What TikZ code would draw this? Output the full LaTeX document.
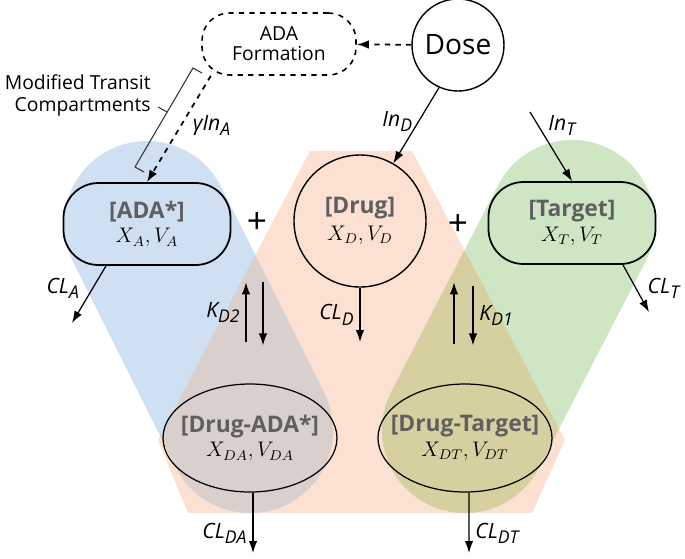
\documentclass[tikz,border=0pt]{standalone}
\usepackage{fontspec}
\setmainfont{Open Sans}
\usetikzlibrary{arrows.meta, positioning, calc, shapes.geometric}
\definecolor{pkblue}{HTML}{CFE0F2}
\definecolor{pkpeach}{HTML}{FCE0D2}
\definecolor{pkgreen}{HTML}{CFE6C5}
\definecolor{pkmauve}{HTML}{D9CFCC}
\definecolor{pkolive}{HTML}{D6D0A0}
\definecolor{pkgray}{HTML}{5F5F5F}
\newcommand{\cname}[1]{{\fontsize{13}{15}\selectfont\bfseries\color{pkgray}#1}}
\newcommand{\cvar}[1]{{\fontsize{12}{14}\selectfont$#1$}}
\newcommand{\lsub}[1]{\raisebox{-.45ex}{\fontsize{10}{12}\selectfont#1}}
\newcommand{\peachhex}{(6.2,-3.02) -- (8.24,-3.02) -- (11.3,-8.8) -- (10.64,-10.26) -- (3.76,-10.26) -- (3.16,-8.8) -- cycle}

\begin{document}
\begin{tikzpicture}[>={Latex[length=2.4mm,width=1.7mm]}, line width=.7pt,
          rr/.style={draw, line width=1pt, rounded corners=.7cm, minimum width=3.34cm, minimum height=1.64cm, align=center, inner sep=0pt},
          cc/.style={draw, circle, line width=.8pt, align=center, inner sep=0pt},
          el/.style={draw, ellipse, line width=.7pt, minimum width=3.48cm, minimum height=2.16cm, align=center, inner xsep=-.31cm, inner ysep=0pt},
          lb/.style={font=\fontsize{12}{14}\selectfont\itshape},
          pl/.style={font=\fontsize{20}{22}\selectfont},
          dsh/.style={->, dashed, line width=1pt},
          band/.style={line width=3.32cm, line cap=round}]
          \useasboundingbox (0,0) rectangle (13.7,-11.16);
          % shaded groups
          \fill[pkpeach] \peachhex;
          \draw[band, pkblue] (2.94,-4.48) -- (5.0,-8.6);
          \draw[band, pkgreen] (11.44,-4.46) -- (9.3,-8.6);
          \begin{scope}
            \clip \peachhex;
            \draw[band, pkmauve] (2.94,-4.48) -- (5.0,-8.6);
            \draw[band, pkolive] (11.44,-4.46) -- (9.3,-8.6);
          \end{scope}
          % compartments
          \node[cc, minimum size=1.84cm, font=\fontsize{16}{18}\selectfont] (dose) at (9.16,-0.9) {Dose};
          \node[draw, dashed, line width=.9pt, rounded corners=.55cm, minimum width=3.08cm, minimum height=1.24cm,
                align=center, font=\fontsize{11}{11.5}\selectfont] (adaf) at (5.58,-0.88) {ADA\\Formation};
          \node[rr] (ada) at (2.94,-4.48) {\cname{[ADA*]}\\[2pt]\cvar{X_A, V_A}};
          \node[cc, minimum size=2.64cm] (drug) at (7.2,-4.42) {\cname{[Drug]}\\[3pt]\cvar{X_D, V_D}};
          \node[rr] (target) at (11.44,-4.46) {\cname{[Target]}\\[2pt]\cvar{X_T, V_T}};
          \node[el] (drugada) at (5.0,-8.76) {\cname{[Drug-ADA*]}\\[2pt]\cvar{X_{DA}, V_{DA}}};
          \node[el] (drugtgt) at (9.3,-8.76) {\cname{[Drug-Target]}\\[2pt]\cvar{X_{DT}, V_{DT}}};
          \node[pl] (plusa) at (5.14,-4.46) {+};
          \node[pl] (plusb) at (9.16,-4.5) {+};
          % inputs
          \coordinate (tin) at (10.6,-2.24);
          \draw[dsh] (dose) -- (adaf);
          \draw[->] (dose.246) -- node[pos=.45, left, lb] {In\lsub{D}} (drug.60);
          \draw[->] (tin) -- node[pos=.2, right=2pt, lb] {In\lsub{T}} (target.north);
          \draw[dsh] (adaf.205) -- node[pos=.47, right=3pt, lb] {γIn\lsub{A}} (ada.north);
          % transit bracket
          \coordinate (brtop) at (3.86,-1.36);
          \coordinate (brbot) at (2.7,-3.34);
          \coordinate (brmid) at (3.34,-2.24);
          \draw[line width=.6pt, black!80] (4.04,-1.46) -- (brtop) -- (brbot) -- (2.88,-3.44);
          \draw[line width=.6pt, black!80] (brmid) -- (3.16,-2.14);
          \node[anchor=east, align=right, inner sep=1pt, font=\fontsize{11}{12.5}\selectfont] (transit) at (3.06,-1.9) {Modified Transit\\Compartments};
          % clearances
          \coordinate (cla) at (1.44,-6.46);
          \coordinate (cld) at (7.2,-6.84);
          \coordinate (clt) at (12.98,-6.24);
          \coordinate (clda) at (5.06,-11.06);
          \coordinate (cldt) at (9.38,-11.06);
          \draw[->] ([xshift=-.82cm]ada.south) -- node[pos=.4, left=4pt, lb] {CL\lsub{A}} (cla);
          \draw[->] (drug.south) -- node[pos=.5, left, lb] {CL\lsub{D}} (cld);
          \draw[->] ([xshift=1.02cm]target.south) -- node[pos=.5, right=3pt, lb] {CL\lsub{T}} (clt);
          \draw[->] ([xshift=.06cm]drugada.south) -- node[pos=.67, left, lb] {CL\lsub{DA}} (clda);
          \draw[->] ([xshift=.08cm]drugtgt.south) -- node[pos=.67, right, lb] {CL\lsub{DT}} (cldt);
          % binding
          \coordinate (k2lo) at ($(drugada.north)+(-.08,.82)$);
          \coordinate (k2hi) at ($(drugada.north)+(-.08,2.02)$);
          \coordinate (k2a) at ($(drugada.north)+(.26,2.02)$);
          \coordinate (k2b) at ($(drugada.north)+(.26,.76)$);
          \coordinate (k1lo) at ($(drugtgt.north)+(-.22,.78)$);
          \coordinate (k1hi) at ($(drugtgt.north)+(-.22,2.02)$);
          \coordinate (k1a) at ($(drugtgt.north)+(.16,1.94)$);
          \coordinate (k1b) at ($(drugtgt.north)+(.16,.76)$);
          \draw[->] (k2lo) -- node[midway, left, lb] {K\lsub{D2}} (k2hi);
          \draw[->] (k2a) -- (k2b);
          \draw[->] (k1lo) -- (k1hi);
          \draw[->] (k1a) -- node[midway, right, lb] {K\lsub{D1}} (k1b);
        \end{tikzpicture}
\end{document}
